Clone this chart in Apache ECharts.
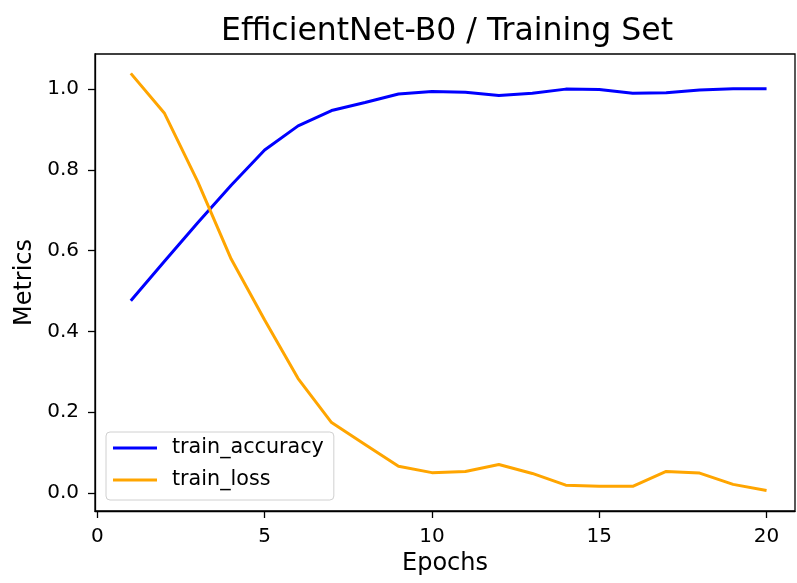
<!DOCTYPE html>
<html>
<head>
<meta charset="utf-8">
<script src="https://cdn.jsdelivr.net/npm/echarts@6/dist/echarts.min.js"></script>
<style>html,body{margin:0;padding:0;background:#fff}#c{width:797px;height:583px}</style>
</head>
<body>
<div id="c"></div>
<script>
const epochs = [1,2,3,4,5,6,7,8,9,10,11,12,13,14,15,16,17,18,19,20];
const trainAccuracy = [0.476,0.573,0.669,0.762,0.849,0.909,0.947,0.967,0.988,0.994,0.992,0.984,0.990,1.000,0.999,0.990,0.991,0.998,1.001,1.001];
const trainLoss = [1.039,0.941,0.771,0.579,0.428,0.283,0.174,0.120,0.066,0.050,0.053,0.070,0.048,0.019,0.016,0.016,0.053,0.049,0.021,0.006];
const xTicks = [0,5,10,15,20];
const yTicks = [0.0,0.2,0.4,0.6,0.8,1.0];

const FONT = 'DejaVu Sans';
const chart = echarts.init(document.getElementById('c'), null, {renderer:'canvas'});
chart.setOption({
  animation:false,
  backgroundColor:'#fff',
  title:{text:'EfficientNet-B0 / Training Set', left:216, top:11,
    textStyle:{fontFamily:FONT, fontSize:31.5, fontWeight:'normal', color:'#000'}},
  grid:{left:95, right:2, top:54, bottom:72, show:true, borderColor:'#000', borderWidth:1.3, backgroundColor:'transparent'},
  legend:{orient:'vertical', left:106, top:432, padding:[4,10,8,7], itemGap:8,
    itemWidth:44, itemHeight:3, icon:'rect',
    borderColor:'#d0d0d0', borderWidth:1, borderRadius:4, backgroundColor:'rgba(255,255,255,0.8)',
    textStyle:{fontFamily:FONT, fontSize:20.7, color:'#000', lineHeight:24, padding:[0,0,0,10]},
    data:['train_accuracy','train_loss']},
  xAxis:{type:'value', min:-0.07, max:20.85,
    name:'Epochs', nameLocation:'middle', nameGap:41,
    nameTextStyle:{fontFamily:FONT, fontSize:24, color:'#000'},
    axisLine:{show:true, onZero:false, lineStyle:{color:'#000', width:1.3}},
    axisTick:{show:true, length:7, lineStyle:{color:'#000', width:1.3}, customValues:xTicks},
    axisLabel:{fontFamily:FONT, fontSize:20, color:'#000', margin:16, customValues:xTicks},
    splitLine:{show:false}},
  yAxis:{type:'value', min:-0.045, max:1.087,
    name:'Metrics', nameLocation:'middle', nameGap:56, nameRotate:90,
    nameTextStyle:{fontFamily:FONT, fontSize:24, color:'#000'},
    axisLine:{show:true, onZero:false, lineStyle:{color:'#000', width:1.3}},
    axisTick:{show:true, length:7, lineStyle:{color:'#000', width:1.3}, customValues:yTicks},
    axisLabel:{fontFamily:FONT, fontSize:20, color:'#000', margin:16, customValues:yTicks,
      formatter:v=>v.toFixed(1)},
    splitLine:{show:false}},
  series:[
    {name:'train_accuracy', type:'line', symbol:'none', color:'#0000ff',
      lineStyle:{width:3, color:'#0000ff'}, data:epochs.map((e,i)=>[e,trainAccuracy[i]])},
    {name:'train_loss', type:'line', symbol:'none', color:'#ffa500',
      lineStyle:{width:3, color:'#ffa500'}, data:epochs.map((e,i)=>[e,trainLoss[i]])}
  ]
});
</script>
</body>
</html>
